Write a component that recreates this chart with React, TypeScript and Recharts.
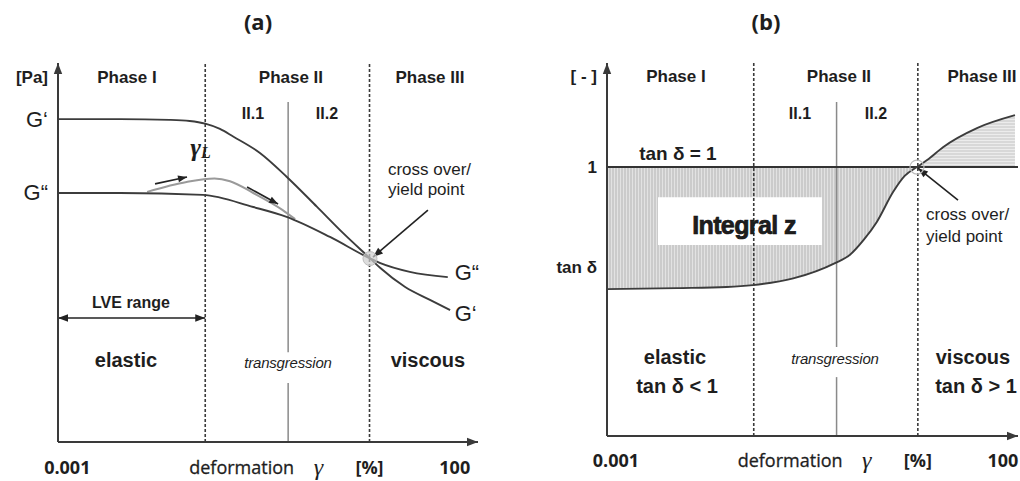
import React from 'react';
import { ComposedChart, Line, Area, XAxis, YAxis, ReferenceLine, ReferenceDot, ReferenceArea } from 'recharts';

// x is log10 of the deformation in %, y is in schematic units of each panel
const phaseBounds = [-1.22, 0.9];
const subPhaseBound = -0.15;

const xTickValues = [-3, -0.75, 0.24, 0.9, 2];
const xTickLabels = ['0.001', 'deformation', 'γ', '[%]', '100'];

// (a) storage modulus G' and loss modulus G''
const gStorageX = [-3.12, -2.32, -1.68, -1.42, -1.22, -1.03, -0.86, -0.51, -0.17, 0.22, 0.56, 0.91, 1.04, 1.36, 1.68, 1.94];
const gStorageY = [8.52, 8.52, 8.5, 8.47, 8.4, 8.26, 8.06, 7.62, 7.0, 6.21, 5.51, 4.84, 4.59, 4.09, 3.75, 3.48];
const gLossX = [-3.12, -2.32, -1.25, -0.6, -0.17, 0.39, 0.91, 1.04, 1.42, 1.91];
const gLossY = [6.57, 6.57, 6.52, 6.2, 5.94, 5.41, 4.84, 4.72, 4.49, 4.35];
const yieldPathX = [-1.97, -1.46, -1.1, -0.9, -0.6, -0.22, -0.06];
const yieldPathY = [6.6, 6.86, 6.95, 6.88, 6.57, 6.12, 5.88];
const yTicksA = [6.57, 8.52, 9.63];
const yLabelsA = ['G“', 'G‘', '[Pa]'];

// (b) loss factor tan delta
const tanDeltaX = [-3.116, -2.21, -1.57, -1.23, -0.71, -0.17, 0.02, 0.2, 0.37, 0.58, 0.73, 0.889, 1.02, 1.225, 1.664, 2.155];
const tanDeltaY = [0.546, 0.55, 0.554, 0.561, 0.586, 0.643, 0.673, 0.729, 0.796, 0.907, 0.967, 1.0, 1.026, 1.074, 1.145, 1.193];
const crossX = 0.889;
const yTicksB = [0.628, 1, 1.335];
const yLabelsB = ['tan δ', '1', '[ - ]'];

type Note = { x: number; y: number; text: string; kind: string; anchor?: 'start' | 'middle' | 'end' };

const notesA: Note[] = [
  { x: -0.539, y: 11.1, text: '(a)', kind: 'title' },
  { x: -2.23, y: 9.63, text: 'Phase I', kind: 'phase' },
  { x: -0.114, y: 9.63, text: 'Phase II', kind: 'phase' },
  { x: 1.68, y: 9.63, text: 'Phase III', kind: 'phase' },
  { x: -0.604, y: 8.68, text: 'II.1', kind: 'sub' },
  { x: 0.351, y: 8.68, text: 'II.2', kind: 'sub' },
  { x: -1.28, y: 7.78, text: 'γ', kind: 'gammaL' },
  { x: 1.138, y: 7.18, text: 'cross over/', kind: 'note', anchor: 'start' },
  { x: 1.138, y: 6.65, text: 'yield point', kind: 'note', anchor: 'start' },
  { x: 2.0, y: 4.46, text: 'G“', kind: 'modulus', anchor: 'start' },
  { x: 2.0, y: 3.4, text: 'G‘', kind: 'modulus', anchor: 'start' },
  { x: -2.178, y: 3.69, text: 'LVE range', kind: 'lve' },
  { x: -2.243, y: 2.16, text: 'elastic', kind: 'regime' },
  { x: -0.152, y: 2.11, text: 'transgression', kind: 'trans' },
  { x: 1.654, y: 2.16, text: 'viscous', kind: 'regime' },
];

const notesB: Note[] = [
  { x: -1.062, y: 1.543, text: '(b)', kind: 'title' },
  { x: -2.225, y: 1.335, text: 'Phase I', kind: 'phase' },
  { x: -0.119, y: 1.335, text: 'Phase II', kind: 'phase' },
  { x: 1.729, y: 1.335, text: 'Phase III', kind: 'phase' },
  { x: -0.623, y: 1.201, text: 'II.1', kind: 'sub' },
  { x: 0.359, y: 1.201, text: 'II.2', kind: 'sub' },
  { x: -2.2, y: 1.052, text: 'tan δ = 1', kind: 'tanone' },
  { x: -1.346, y: 0.784, text: 'Integral z', kind: 'integral' },
  { x: 1.005, y: 0.822, text: 'cross over/', kind: 'note', anchor: 'start' },
  { x: 1.005, y: 0.74, text: 'yield point', kind: 'note', anchor: 'start' },
  { x: -2.238, y: 0.294, text: 'elastic', kind: 'regime' },
  { x: -2.212, y: 0.186, text: 'tan δ < 1', kind: 'regime' },
  { x: -0.171, y: 0.29, text: 'transgression', kind: 'trans' },
  { x: 1.612, y: 0.294, text: 'viscous', kind: 'regime' },
  { x: 1.651, y: 0.186, text: 'tan δ > 1', kind: 'regime' },
];

const SANS = '"Liberation Sans", Arial, sans-serif';
const OPEN = '"Open Sans", sans-serif';
const INK = '#1e1e1e';

const textStyles: { [k: string]: React.SVGProps<SVGTextElement> } = {
  title: { fontFamily: OPEN, fontWeight: 700, fontSize: 22 },
  phase: { fontFamily: SANS, fontWeight: 700, fontSize: 17 },
  sub: { fontFamily: SANS, fontWeight: 700, fontSize: 16 },
  note: { fontFamily: SANS, fontSize: 17 },
  modulus: { fontFamily: SANS, fontSize: 22 },
  lve: { fontFamily: SANS, fontWeight: 700, fontSize: 16 },
  regime: { fontFamily: SANS, fontWeight: 700, fontSize: 20 },
  trans: { fontFamily: SANS, fontStyle: 'italic', fontSize: 15, letterSpacing: -0.2 },
  tanone: { fontFamily: SANS, fontWeight: 700, fontSize: 19 },
  integral: { fontFamily: SANS, fontWeight: 700, fontSize: 25, letterSpacing: -0.6, stroke: '#111', strokeWidth: 0.7 },
  axisNum: { fontFamily: OPEN, fontWeight: 700, fontSize: 18 },
  axisWord: { fontFamily: OPEN, fontSize: 18, stroke: '#1e1e1e', strokeWidth: 0.3 },
  axisGreek: { fontFamily: '"Liberation Serif", serif', fontStyle: 'italic', fontSize: 24 },
  yBold: { fontFamily: SANS, fontWeight: 700, fontSize: 17 },
  yMod: { fontFamily: SANS, fontSize: 22 },
};

const toPts = (xs: number[], ys: number[]) => xs.map((x, i) => ({ x, y: ys[i] }));

const gStorage = toPts(gStorageX, gStorageY);
const gLoss = toPts(gLossX, gLossY);
const yieldPath = toPts(yieldPathX, yieldPathY);
const tanDelta = toPts(tanDeltaX, tanDeltaY);
const bandBelow = tanDelta.filter((p) => p.x <= crossX).map((p) => ({ x: p.x, band: [p.y, 1] }));
const bandAbove = tanDelta.filter((p) => p.x >= crossX).map((p) => ({ x: p.x, band: [1, p.y] }));

// line with arrowhead(s), used as ReferenceLine shape
const arrowShape = (both: boolean, color = '#2a2a2a', w = 1.6, head = 9) => (p: any) => {
  const { x1, y1, x2, y2 } = p;
  const ang = Math.atan2(y2 - y1, x2 - x1);
  const tri = (x: number, y: number, a: number) => {
    const bx = x - head * Math.cos(a);
    const by = y - head * Math.sin(a);
    const nx = -Math.sin(a) * head * 0.38;
    const ny = Math.cos(a) * head * 0.38;
    return `${x},${y} ${bx + nx},${by + ny} ${bx - nx},${by - ny}`;
  };
  return (
    <g>
      <line x1={x1} y1={y1} x2={x2} y2={y2} stroke={color} strokeWidth={w} />
      <polygon points={tri(x2, y2, ang)} fill={color} />
      {both && <polygon points={tri(x1, y1, ang + Math.PI)} fill={color} />}
    </g>
  );
};

const renderNote = (n: Note, k: string) => (
  <ReferenceDot
    key={k}
    x={n.x}
    y={n.y}
    r={1}
    ifOverflow="visible"
    shape={(p: any) =>
      n.kind === 'gammaL' ? (
        <text x={p.cx} y={p.cy} textAnchor="middle" dominantBaseline="central" fill={INK}
          fontFamily='"Liberation Serif", serif' fontStyle="italic" fontWeight={700} fontSize={26}>
          γ<tspan fontSize={16} dy={5} fontFamily='"Liberation Serif", serif' fontWeight={700}>L</tspan>
        </text>
      ) : (
        <text x={p.cx} y={p.cy} textAnchor={n.anchor ?? 'middle'} dominantBaseline="central" fill={INK} {...textStyles[n.kind]}>
          {n.text}
        </text>
      )
    }
  />
);

const makeXTick = (offset: number) => (props: any) => {
  const { x, y, payload } = props;
  const i = xTickValues.indexOf(payload.value);
  const st = i === 1 ? textStyles.axisWord : i === 2 ? textStyles.axisGreek : textStyles.axisNum;
  return (
    <text x={x} y={y + offset} textAnchor="middle" dominantBaseline="central" fill={INK} {...st}>
      {xTickLabels[i]}
    </text>
  );
};

const makeYTick = (values: number[], labels: string[]) => (props: any) => {
  const { x, y, payload } = props;
  const i = values.indexOf(payload.value);
  const label = labels[i];
  const st = label.startsWith('G') ? textStyles.yMod : textStyles.yBold;
  return (
    <text x={x - 10} y={y} textAnchor="end" dominantBaseline="central" fill={INK} {...st}>
      {label}
    </text>
  );
};

const AXIS = '#3a3a3a';
const CURVE = '#3c3c3c';

const App = () => {
  const domA: [number, number] = [-3.12, 2.3];
  const domB: [number, number] = [-3.116, 2.194];
  return (
    <div style={{ position: 'absolute', left: 0, top: 0, width: 1020, height: 481, background: '#fff' }}>
      {/* panel (a) */}
      <div style={{ position: 'absolute', left: 0, top: 0 }}>
        <ComposedChart width={510} height={481} margin={{ top: 63, right: 32, bottom: 0, left: 0 }}>
          <XAxis type="number" dataKey="x" domain={domA} allowDataOverflow ticks={xTickValues} interval={0}
            axisLine={false} tickLine={false} tickSize={0} tickMargin={0} height={39} tick={makeXTick(25)} />
          <YAxis type="number" domain={[0, 10]} allowDataOverflow ticks={yTicksA} interval={0}
            axisLine={false} tickLine={false} tickSize={0} tickMargin={0} width={58} tick={makeYTick(yTicksA, yLabelsA)} />
          {phaseBounds.map((b) => (
            <ReferenceLine key={b} x={b} stroke={AXIS} strokeWidth={1.6} strokeDasharray="3 2" ifOverflow="visible" />
          ))}
          <ReferenceLine segment={[{ x: subPhaseBound, y: 8.97 }, { x: subPhaseBound, y: 2.37 }]} stroke="#8a8a8a" strokeWidth={1.5} ifOverflow="visible" />
          <ReferenceLine segment={[{ x: subPhaseBound, y: 1.56 }, { x: subPhaseBound, y: 0 }]} stroke="#8a8a8a" strokeWidth={1.5} ifOverflow="visible" />
          <Line data={yieldPath} dataKey="y" type="monotone" stroke="#9a9a9a" strokeWidth={2} dot={false} activeDot={false} isAnimationActive={false} />
          <Line data={gLoss} dataKey="y" type="monotone" stroke={CURVE} strokeWidth={1.9} dot={false} activeDot={false} isAnimationActive={false} />
          <Line data={gStorage} dataKey="y" type="monotone" stroke={CURVE} strokeWidth={1.9} dot={false} activeDot={false} isAnimationActive={false} />
          <ReferenceDot x={0.906} y={4.84} r={7} fill="#cfcfcf" fillOpacity={0.7} stroke="#bdbdbd" ifOverflow="visible" />
          <ReferenceLine segment={[{ x: -1.868, y: 6.81 }, { x: -1.455, y: 6.99 }]} shape={arrowShape(false, '#222', 1.6, 9)} ifOverflow="visible" />
          <ReferenceLine segment={[{ x: -0.68, y: 6.73 }, { x: -0.28, y: 6.28 }]} shape={arrowShape(false, '#222', 1.6, 9)} ifOverflow="visible" />
          <ReferenceLine segment={[{ x: 1.654, y: 6.12 }, { x: 0.945, y: 4.88 }]} shape={arrowShape(false, '#222', 1.6, 10)} ifOverflow="visible" />
          <ReferenceLine segment={[{ x: -3.12, y: 3.27 }, { x: -1.22, y: 3.27 }]} shape={arrowShape(true, '#222', 1.6, 10)} ifOverflow="visible" />
          <ReferenceLine segment={[{ x: -3.12, y: 0 }, { x: 2.3, y: 0 }]} shape={arrowShape(false, AXIS, 2, 11)} ifOverflow="visible" />
          <ReferenceLine segment={[{ x: -3.12, y: 0 }, { x: -3.12, y: 10 }]} shape={arrowShape(false, AXIS, 2, 11)} ifOverflow="visible" />
          {notesA.map((n, i) => renderNote(n, 'a' + i))}
        </ComposedChart>
      </div>

      {/* panel (b) */}
      <div style={{ position: 'absolute', left: 510, top: 0 }}>
        <ComposedChart width={510} height={481} margin={{ top: 63, right: 2, bottom: 0, left: 0 }}>
          <defs>
            <pattern id="vhatch" width="3" height="6" patternUnits="userSpaceOnUse">
              <rect width="3" height="6" fill="#e2e2e2" />
              <line x1="1" y1="0" x2="1" y2="6" stroke="#b4b4b4" strokeWidth="1" />
            </pattern>
            <pattern id="hhatch" width="6" height="3" patternUnits="userSpaceOnUse">
              <rect width="6" height="3" fill="#ececec" />
              <line x1="0" y1="1" x2="6" y2="1" stroke="#c4c4c4" strokeWidth="1" />
            </pattern>
          </defs>
          <XAxis type="number" dataKey="x" domain={domB} allowDataOverflow ticks={xTickValues} interval={0}
            axisLine={false} tickLine={false} tickSize={0} tickMargin={0} height={45} tick={makeXTick(24)} />
          <YAxis type="number" domain={[0, 1.387]} allowDataOverflow ticks={yTicksB} interval={0}
            axisLine={false} tickLine={false} tickSize={0} tickMargin={0} width={97} tick={makeYTick(yTicksB, yLabelsB)} />
          <Area data={bandBelow} dataKey="band" type="monotone" stroke="none" fill="url(#vhatch)" fillOpacity={1} dot={false} activeDot={false} isAnimationActive={false} />
          <Area data={bandAbove} dataKey="band" type="monotone" stroke="none" fill="url(#hhatch)" fillOpacity={1} dot={false} activeDot={false} isAnimationActive={false} />
          <ReferenceArea x1={-2.457} x2={-0.338} y1={0.71} y2={0.888} fill="#fff" fillOpacity={1} stroke="none" ifOverflow="visible" />
          {phaseBounds.map((b) => (
            <ReferenceLine key={b} x={b} stroke={AXIS} strokeWidth={1.6} strokeDasharray="3 2" ifOverflow="visible" />
          ))}
          <ReferenceLine segment={[{ x: subPhaseBound, y: 1.242 }, { x: subPhaseBound, y: 0.331 }]} stroke="#8a8a8a" strokeWidth={1.5} ifOverflow="visible" />
          <ReferenceLine segment={[{ x: subPhaseBound, y: 0.219 }, { x: subPhaseBound, y: 0 }]} stroke="#8a8a8a" strokeWidth={1.5} ifOverflow="visible" />
          <ReferenceLine y={1} stroke="#333" strokeWidth={2} ifOverflow="visible" />
          <Line data={tanDelta} dataKey="y" type="monotone" stroke={CURVE} strokeWidth={1.9} dot={false} activeDot={false} isAnimationActive={false} />
          <ReferenceDot x={crossX} y={1} r={7} fill="none" stroke="#bdbdbd" strokeWidth={1.2} ifOverflow="visible" />
          <ReferenceLine segment={[{ x: 1.419, y: 0.877 }, { x: 0.902, y: 0.996 }]} shape={arrowShape(false, '#222', 1.6, 10)} ifOverflow="visible" />
          <ReferenceLine segment={[{ x: -3.116, y: 0 }, { x: 2.194, y: 0 }]} shape={arrowShape(false, AXIS, 2, 11)} ifOverflow="visible" />
          <ReferenceLine segment={[{ x: -3.116, y: 0 }, { x: -3.116, y: 1.387 }]} shape={arrowShape(false, AXIS, 2, 11)} ifOverflow="visible" />
          {notesB.map((n, i) => renderNote(n, 'b' + i))}
        </ComposedChart>
      </div>
    </div>
  );
};

export default App;
